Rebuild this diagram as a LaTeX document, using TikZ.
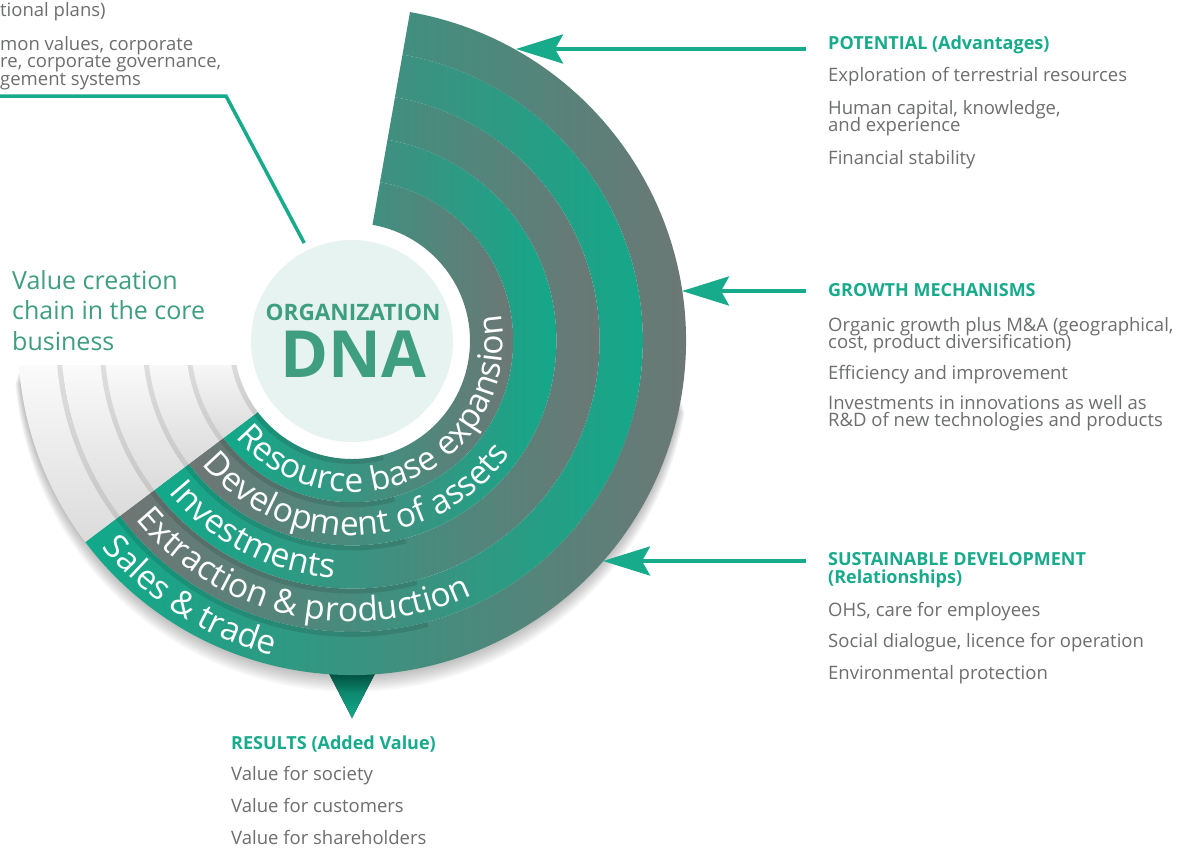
\documentclass[tikz,border=0pt]{standalone}
\usepackage{fontspec}
\setmainfont{Open Sans}
\usetikzlibrary{arrows.meta,decorations.text,positioning}

\definecolor{ringteal}{HTML}{10AA8A}
\definecolor{ringgray}{HTML}{707574}
\definecolor{ringpale}{HTML}{62A190}
\definecolor{headteal}{HTML}{17AB8B}
\definecolor{bodygray}{HTML}{6D6E70}
\definecolor{dnateal}{HTML}{3E9E7F}
\definecolor{dnabg}{HTML}{E6F3F0}

\newcommand{\entryfont}{\fontsize{18.5}{17.4}\selectfont\lineskiplimit=-20pt}
\newcommand{\headfont}{\fontsize{18}{17.4}\selectfont\bfseries\lineskiplimit=-20pt}
\newcommand{\ringfont}{\fontsize{33.5}{34}\selectfont}

\begin{document}
\begin{tikzpicture}[x=1pt,y=1pt,
  head/.style={font=\headfont, text=headteal, anchor=base west, align=left, inner sep=0pt},
  entry/.style={font=\entryfont, text=bodygray, anchor=base west, align=left, inner sep=0pt},
  pointer/.style={draw=headteal, line width=4pt, -{Stealth[length=47pt,width=29pt,inset=8pt]}},
  ringshadow/.style={draw=black, opacity=.11, line width=5pt}
]

\fill[white] (0,0) rectangle (1183,-847);
\useasboundingbox (0,0) rectangle (1183,-847);

\coordinate (C) at (352,-341);

% pointer below the rings
\fill[top color=ringteal!55!black, bottom color=ringteal] (322,-660) -- (382,-660) -- (352,-718) -- cycle;

\begin{scope}[shift={(C)}]
  % soft shadow under the outer ring
  \foreach \s in {1,...,8}{
    \pgfmathsetmacro\rr{334+0.5*\s}
    \fill[black, opacity=.032, yshift=-1.6*\s] (-175:286) -- (-175:\rr) arc[start angle=-175, end angle=-10, radius=\rr] -- (-10:286) arc[start angle=-10, end angle=-175, radius=286] -- cycle;
  }

  % coloured rings with their labels
  \foreach \i/\lc/\mc/\rc/\txt in {1/ringteal/ringteal!50!ringgray/ringgray/Resource base expansion,
      2/ringgray/ringgray!50!ringteal/ringteal/Development of assets,
      3/ringteal/ringteal!50!ringgray/ringgray/Investments,
      4/ringgray/ringgray!50!ringteal/ringteal/Extraction {\&} production,
      5/ringteal/ringpale/ringgray/Sales {\&} trade}{
    \pgfmathsetmacro\ri{118+43.2*(\i-1)}
    \pgfmathsetmacro\ro{\ri+43.2}
    \pgfmathsetmacro\rs{\ri+2.5}
    \pgfmathsetmacro\rt{\ro-10}
    \shade[left color=\lc, middle color=\mc, right color=\rc] (80:\ro) arc[start angle=80, end angle=-143, radius=\ro] -- (-143:\ri) arc[start angle=-143, end angle=80, radius=\ri] -- cycle;
    \draw[ringshadow] (-143:\rs) arc[start angle=-143, end angle=-75, radius=\rs];
    \ringfont
    \path[decorate, decoration={text along path, text/.expand once=\txt, text color=white, text align=left}] (219.5:\rt) arc[start angle=219.5, end angle=435, radius=\rt];
  }

  % pale rings on the left
  \begin{scope}
    \clip (-345,-24) rectangle (0,-260);
    \foreach \i in {1,...,5}{
      \pgfmathsetmacro\ri{118+43.2*(\i-1)}
      \pgfmathsetmacro\ro{\ri+43.2}
      \pgfmathsetmacro\rs{\ri+2.5}
      \shade[top color=white, bottom color=black!14] (180:\ro) arc[start angle=180, end angle=217, radius=\ro] -- (217:\ri) arc[start angle=217, end angle=180, radius=\ri] -- cycle;
      \draw[ringshadow] (180:\rs) arc[start angle=180, end angle=217, radius=\rs];
    }
  \end{scope}
\end{scope}

% centre
\node[circle, fill=dnabg, minimum size=202pt, inner sep=0pt, outer sep=8pt] (dna) at (C) {};
\node[font=\fontsize{22.6}{24}\selectfont\bfseries, text=dnateal, anchor=base, inner sep=0pt] (org) at (353,-320) {ORGANIZATION};
\node[font=\fontsize{65}{65}\selectfont\bfseries, text=dnateal, anchor=base, inner sep=0pt] (dnatxt) at (353,-377) {DNA};

\node[font=\fontsize{25}{30.5}\selectfont, text=dnateal, anchor=base west, align=left, inner sep=0pt] (chain) at (12,-350) {Value creation\\chain in the core\\business};

% text cut at the left edge
\node[entry] (strat1) at (0,-16.7) {tional plans)};
\node[entry] (strat2) at (0,-85) {mon values, corporate\\re, corporate governance,\\gement systems};

\coordinate (lstart) at (0,-96);
\coordinate (lbend) at (226,-96);
\draw[headteal, line width=3.5pt] (lstart) -- (lbend) -- (dna.116);

% right column (base = last line)
\node[head] (pot) at (828,-49.3) {POTENTIAL (Advantages)};
\node[entry] (pot1) at (828,-81) {Exploration of terrestrial resources};
\node[entry] (pot2) at (828,-131.7) {Human capital, knowledge,\\and experience};
\node[entry] (pot3) at (828,-164) {Financial stability};

\node[head] (grow) at (828,-296) {GROWTH MECHANISMS};
\node[entry] (grow1) at (828,-348.5) {Organic growth plus M\&A (geographical,\\cost, product diversification)};
\node[entry] (grow2) at (828,-379.3) {Efficiency and improvement};
\node[entry] (grow3) at (828,-426.7) {Investments in innovations as well as\\R\&D of new technologies and products};

\node[head] (sust) at (828,-583) {SUSTAINABLE DEVELOPMENT\\(Relationships)};
\node[entry] (sust1) at (828,-616) {OHS, care for employees};
\node[entry] (sust2) at (828,-647.3) {Social dialogue, licence for operation};
\node[entry] (sust3) at (828,-679.3) {Environmental protection};

\node[head] (res) at (231,-749.3) {RESULTS (Added Value)};
\node[entry] (res1) at (231,-780.7) {Value for society};
\node[entry] (res2) at (231,-812.3) {Value for customers};
\node[entry] (res3) at (231,-844) {Value for shareholders};

% arrows into the rings
\coordinate (a1) at (806,-49);
\coordinate (t1) at (516,-49);
\coordinate (a2) at (806,-291);
\coordinate (t2) at (682,-291);
\coordinate (a3) at (806,-561);
\coordinate (t3) at (603,-561);
\draw[pointer] (a1) -- (t1);
\draw[pointer] (a2) -- (t2);
\draw[pointer] (a3) -- (t3);

\end{tikzpicture}
\end{document}
